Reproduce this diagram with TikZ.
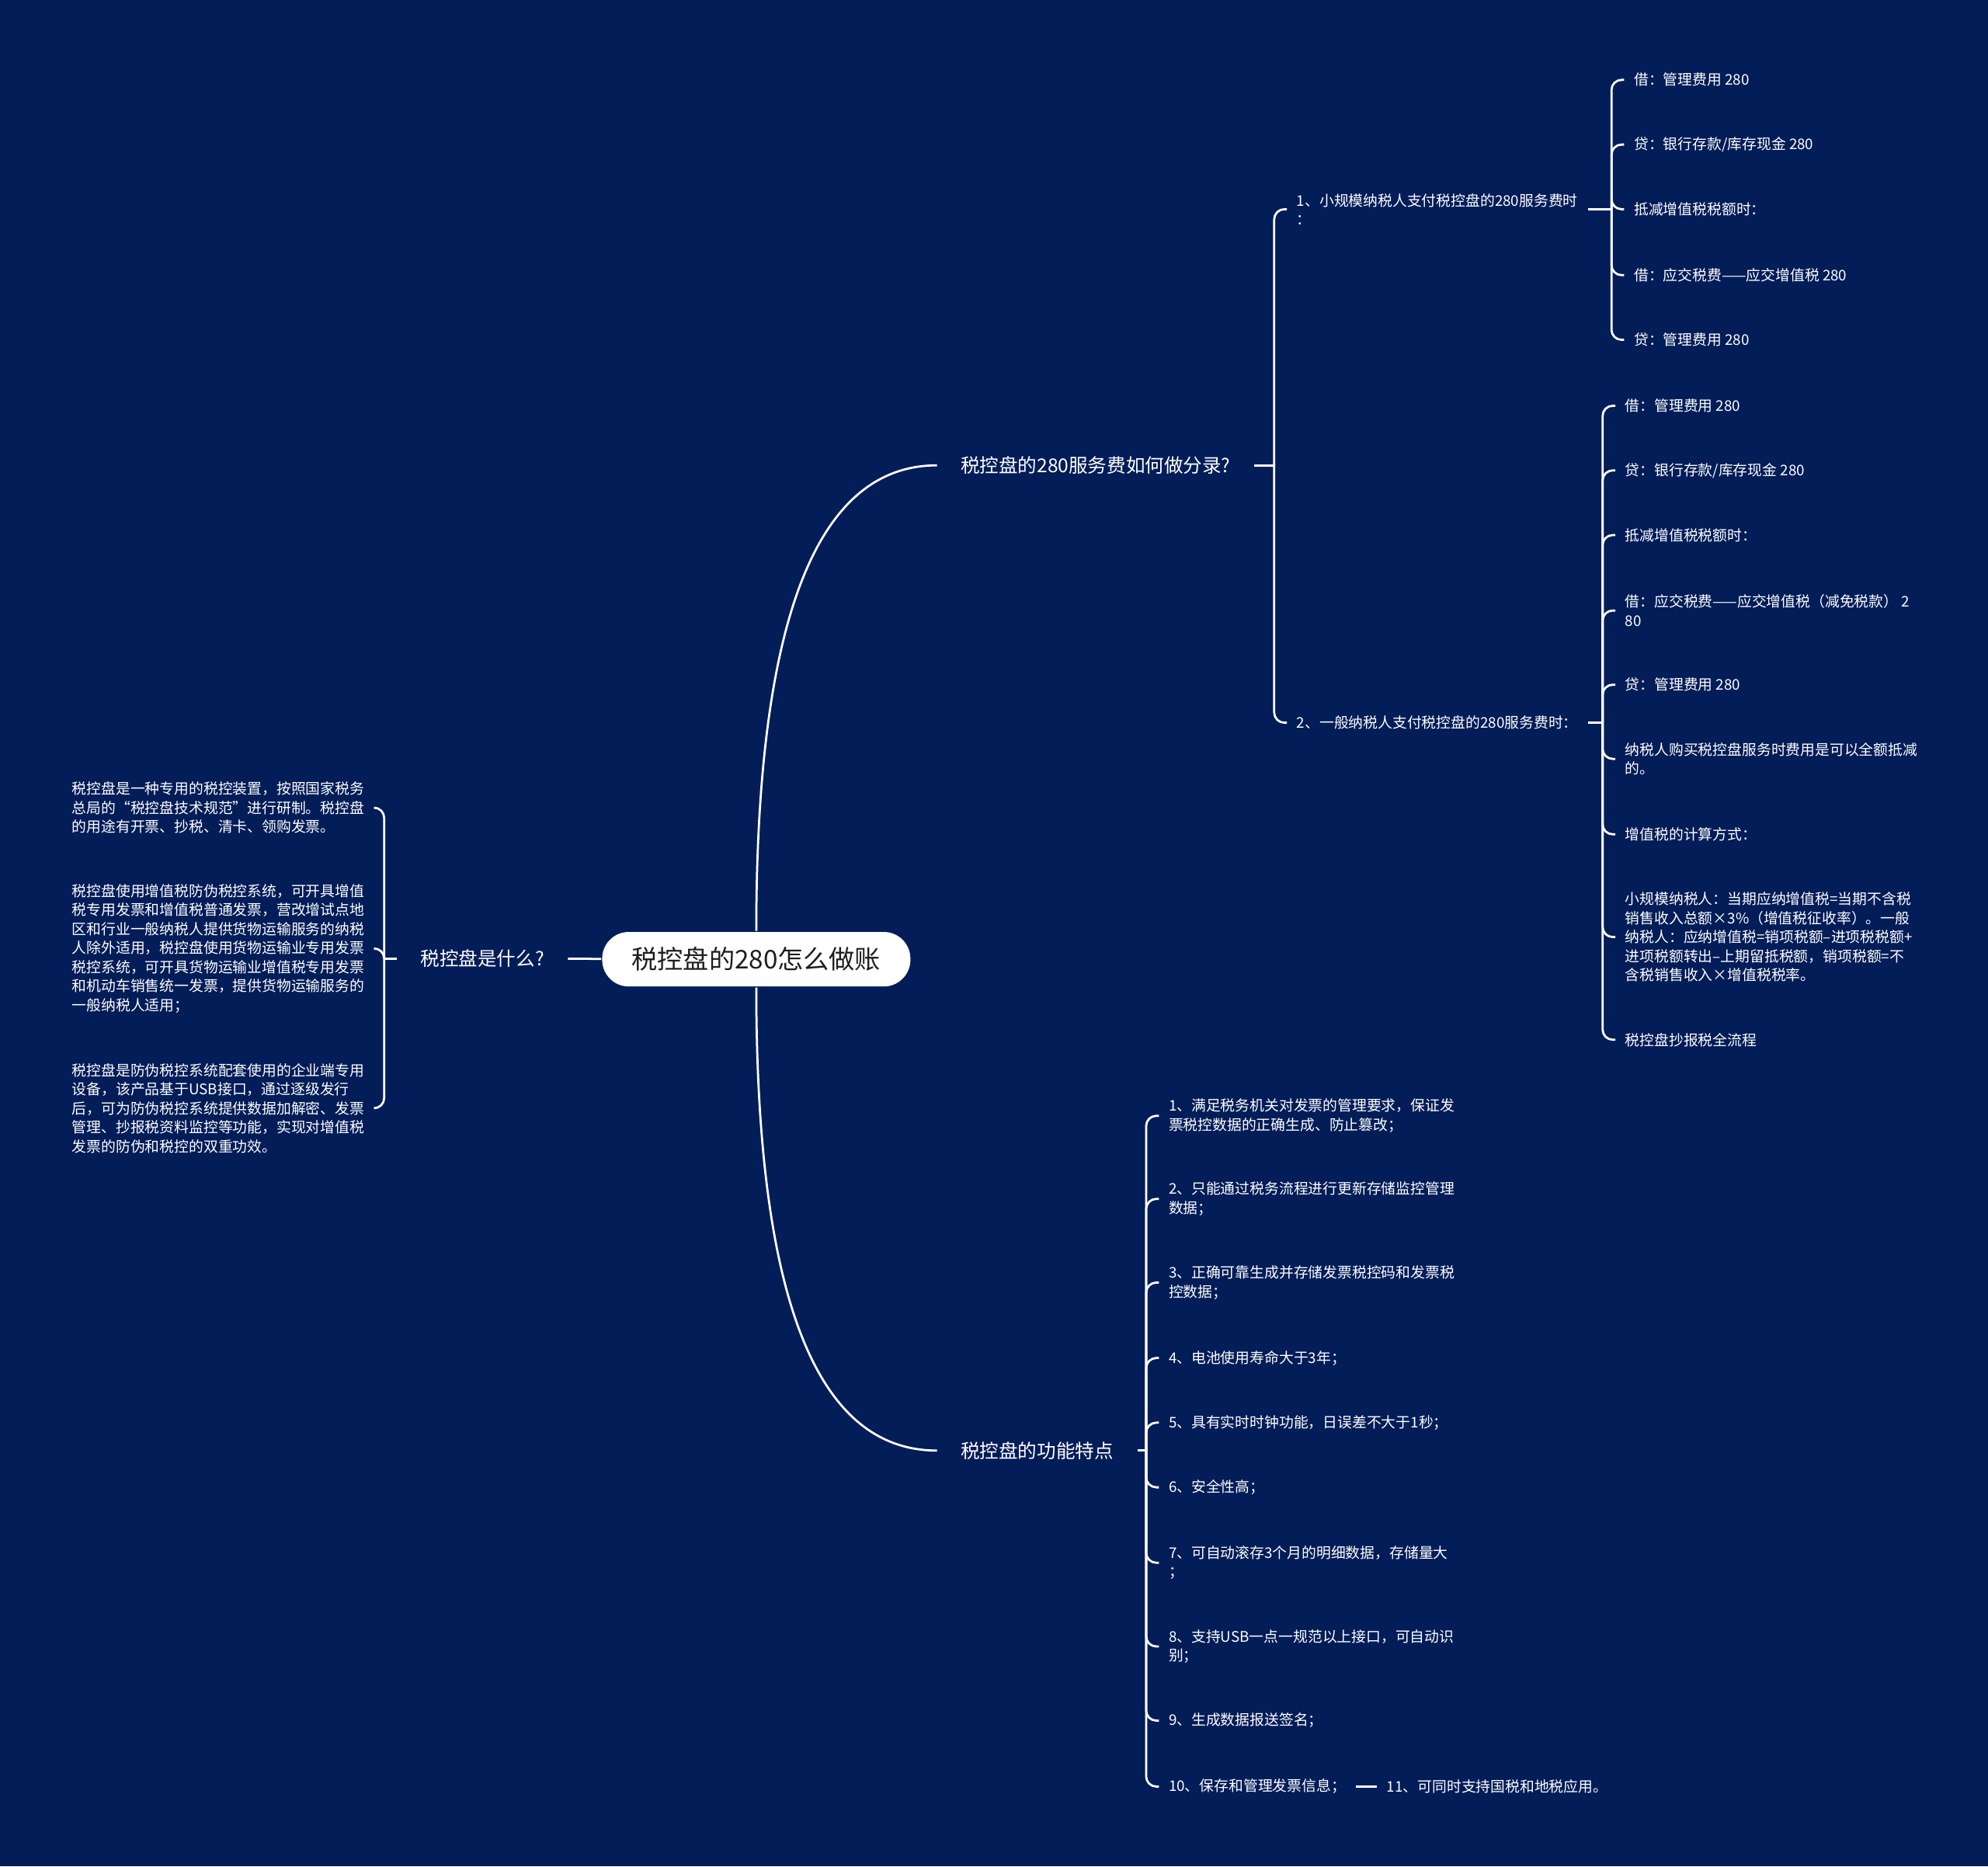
\documentclass[tikz,border=0pt]{standalone}
\usepackage{fontspec}
\setmainfont{Noto Sans CJK SC}
\definecolor{navy}{HTML}{031D58}
\definecolor{ink}{HTML}{1E1E1E}

\begin{document}
\begin{tikzpicture}[x=0.05cm,y=-0.05cm,line width=2.4pt,white,
   leaf/.style={anchor=west,align=left,inner xsep=0.35cm,inner ysep=0pt,
     font=\fontsize{16.4}{21.3}\selectfont},
   branch/.style={anchor=west,inner xsep=0.9cm,inner ysep=0.1cm,
     font=\fontsize{21.4}{26}\selectfont},
   hook/.style={rounded corners=0.4cm}]
   \fill[navy] (0,0) rectangle (1568,1472);

   \node[fill=white,text=ink,rounded corners=1.05cm,minimum height=2.15cm,
     inner xsep=1.17cm,font=\fontsize{28.9}{34}\selectfont] (root) at (596.5,756.5) {税控盘的280怎么做账};

   \node[branch,anchor=east] (what) at (448,756) {税控盘是什么?};
   \node[branch] (fee) at (739,367) {税控盘的280服务费如何做分录?};
   \node[branch] (feat) at (739,1144) {税控盘的功能特点};

   \node[leaf] (w1) at (49,637) {税控盘是一种专用的税控装置，按照国家税务\\总局的“税控盘技术规范”进行研制。税控盘\\的用途有开票、抄税、清卡、领购发票。};
   \node[leaf] (w2) at (49,748) {税控盘使用增值税防伪税控系统，可开具增值\\税专用发票和增值税普通发票，营改增试点地\\区和行业一般纳税人提供货物运输服务的纳税\\人除外适用，税控盘使用货物运输业专用发票\\税控系统，可开具货物运输业增值税专用发票\\和机动车销售统一发票，提供货物运输服务的\\一般纳税人适用；};
   \node[leaf] (w3) at (49,874) {税控盘是防伪税控系统配套使用的企业端专用\\设备，该产品基于USB接口，通过逐级发行\\后，可为防伪税控系统提供数据加解密、发票\\管理、抄报税资料监控等功能，实现对增值税\\发票的防伪和税控的双重功效。};

   \node[leaf] (s1) at (1015,165) {1、小规模纳税人支付税控盘的280服务费时\\：};
   \node[leaf] (s2) at (1015,570) {2、一般纳税人支付税控盘的280服务费时：};

   \node[leaf] (s1a) at (1281,63) {借：管理费用 280};
   \node[leaf] (s1b) at (1281,114) {贷：银行存款/库存现金 280};
   \node[leaf] (s1c) at (1281,165) {抵减增值税税额时：};
   \node[leaf] (s1d) at (1281,217) {借：应交税费——应交增值税 280};
   \node[leaf] (s1e) at (1281,268) {贷：管理费用 280};

   \node[leaf] (s2a) at (1274,320) {借：管理费用 280};
   \node[leaf] (s2b) at (1274,371) {贷：银行存款/库存现金 280};
   \node[leaf] (s2c) at (1274,422) {抵减增值税税额时：};
   \node[leaf] (s2d) at (1274,481.5) {借：应交税费——应交增值税（减免税款） 2\\80};
   \node[leaf] (s2e) at (1274,540) {贷：管理费用 280};
   \node[leaf] (s2f) at (1274,598.5) {纳税人购买税控盘服务时费用是可以全额抵减\\的。};
   \node[leaf] (s2g) at (1274,658) {增值税的计算方式：};
   \node[leaf] (s2h) at (1274,739) {小规模纳税人：当期应纳增值税=当期不含税\\销售收入总额×3\%（增值税征收率）。一般\\纳税人：应纳增值税=销项税额–进项税税额+\\进项税额转出–上期留抵税额，销项税额=不\\含税销售收入×增值税税率。};
   \node[leaf] (s2i) at (1274,820) {税控盘抄报税全流程};

   \node[leaf] (f1) at (914,880) {1、满足税务机关对发票的管理要求，保证发\\票税控数据的正确生成、防止篡改；};
   \node[leaf] (f2) at (914,945.5) {2、只能通过税务流程进行更新存储监控管理\\数据；};
   \node[leaf] (f3) at (914,1011.5) {3、正确可靠生成并存储发票税控码和发票税\\控数据；};
   \node[leaf] (f4) at (914,1071) {4、电池使用寿命大于3年；};
   \node[leaf] (f5) at (914,1122) {5、具有实时时钟功能，日误差不大于1秒；};
   \node[leaf] (f6) at (914,1173) {6、安全性高；};
   \node[leaf] (f7) at (914,1232.5) {7、可自动滚存3个月的明细数据，存储量大\\；};
   \node[leaf] (f8) at (914,1298.5) {8、支持USB一点一规范以上接口，可自动识\\别；};
   \node[leaf] (f9) at (914,1357) {9、生成数据报送签名；};
   \node[leaf] (f10) at (914,1409) {10、保存和管理发票信息；};
   \node[leaf] (f11) at (1086,1409) {11、可同时支持国税和地税应用。};

   \coordinate (wj) at (303,756);
   \coordinate (fj) at (1005,367);
   \coordinate (s1j) at (1271,165);
   \coordinate (s2j) at (1264,570);
   \coordinate (tj) at (904,1144);

   \draw (root.north) .. controls +(0,-245) and +(-95,0) .. (fee.west);
   \draw (root.south) .. controls +(0,245) and +(-95,0) .. (feat.west);
   \draw (root) -- (what);

   \draw (what.west) -- (wj);
   \foreach \n in {w1,w2,w3} \draw[hook] (wj) |- (\n.east);

   \draw (fee.east) -- (fj);
   \foreach \n in {s1,s2} \draw[hook] (fj) |- (\n.west);

   \draw (s1.east) -- (s1j);
   \foreach \n in {a,b,c,d,e} \draw[hook] (s1j) |- (s1\n.west);

   \draw (s2.east) -- (s2j);
   \foreach \n in {a,b,c,d,e,f,g,h,i} \draw[hook] (s2j) |- (s2\n.west);

   \draw (feat.east) -- (tj);
   \foreach \n in {1,...,10} \draw[hook] (tj) |- (f\n.west);
   \draw (f10) -- (f11);
\end{tikzpicture}
\end{document}
